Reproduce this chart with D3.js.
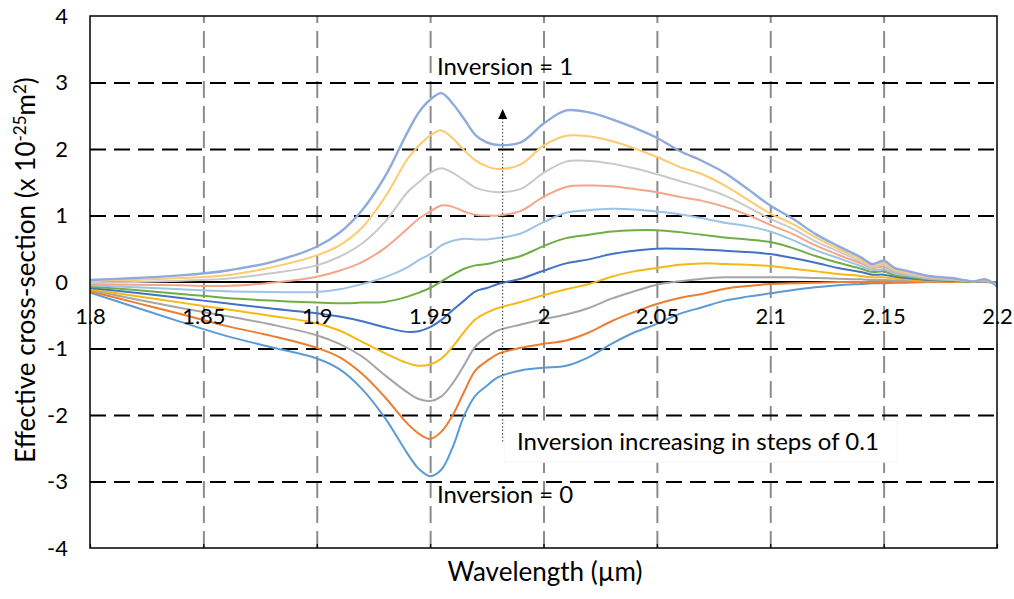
<!DOCTYPE html>
<html>
<head>
<meta charset="utf-8">
<script src="https://cdn.jsdelivr.net/npm/d3@7"></script>
<style>
  body { margin: 0; background: #fff; }
  text { font-family: Lato, "Open Sans", sans-serif; fill: #000; }
</style>
</head>
<body>
<svg id="chart" width="1014" height="599"></svg>
<script>
// wavelength in um
var wavelength = [1.80, 1.82, 1.84, 1.86, 1.88, 1.90, 1.91, 1.92, 1.93, 1.94, 1.945,
  1.95, 1.955, 1.96, 1.965, 1.97, 1.975, 1.98, 1.99, 2.00, 2.01, 2.02, 2.03, 2.04, 2.05,
  2.06, 2.07, 2.08, 2.09, 2.10, 2.11, 2.12, 2.13, 2.14, 2.145, 2.15, 2.155, 2.16, 2.17,
  2.18, 2.19, 2.195, 2.20];

// effective cross-section (x 1e-25 m^2), one array per inversion level
var inv00 = [-0.16, -0.38, -0.60, -0.81, -0.98, -1.15, -1.31, -1.61, -2.04, -2.58, -2.81,
  -2.92, -2.82, -2.48, -2.01, -1.71, -1.56, -1.43, -1.33, -1.29, -1.26, -1.13, -0.93, -0.76, -0.63,
  -0.48, -0.38, -0.28, -0.22, -0.17, -0.12, -0.08, -0.05, -0.03, -0.02, -0.02, -0.01, -0.01, 0.00,
  0.00, 0.00, 0.00, 0.00];
var inv01 = [-0.14, -0.31, -0.48, -0.66, -0.81, -0.99, -1.13, -1.38, -1.73, -2.13, -2.28,
  -2.36, -2.25, -2.00, -1.65, -1.33, -1.19, -1.08, -0.99, -0.93, -0.88, -0.76, -0.59, -0.45, -0.33,
  -0.24, -0.18, -0.10, -0.06, -0.03, -0.02, -0.01, 0.00, 0.00, 0.00, 0.00, 0.00, 0.00, 0.00,
  0.00, 0.00, 0.00, -0.01];
var inv02 = [-0.12, -0.26, -0.39, -0.51, -0.64, -0.80, -0.93, -1.12, -1.40, -1.66, -1.76,
  -1.79, -1.72, -1.52, -1.25, -0.97, -0.83, -0.73, -0.64, -0.56, -0.49, -0.39, -0.25, -0.14, -0.04,
  0.01, 0.05, 0.07, 0.07, 0.07, 0.07, 0.06, 0.05, 0.04, 0.03, 0.03, 0.02, 0.02, 0.01,
  0.01, 0.00, 0.00, -0.01];
var inv03 = [-0.11, -0.21, -0.31, -0.41, -0.51, -0.62, -0.73, -0.90, -1.07, -1.22, -1.26,
  -1.24, -1.15, -0.97, -0.75, -0.56, -0.46, -0.39, -0.30, -0.20, -0.11, -0.03, 0.08, 0.16, 0.21,
  0.26, 0.28, 0.27, 0.26, 0.24, 0.20, 0.16, 0.12, 0.09, 0.07, 0.07, 0.05, 0.04, 0.02,
  0.01, 0.00, 0.01, -0.02];
var inv04 = [-0.09, -0.16, -0.24, -0.32, -0.40, -0.47, -0.52, -0.59, -0.68, -0.75, -0.74,
  -0.68, -0.57, -0.42, -0.28, -0.14, -0.09, -0.03, 0.05, 0.17, 0.28, 0.34, 0.42, 0.47, 0.50,
  0.50, 0.49, 0.47, 0.45, 0.42, 0.36, 0.29, 0.21, 0.15, 0.11, 0.11, 0.08, 0.06, 0.03,
  0.02, 0.00, 0.01, -0.02];
var inv05 = [-0.07, -0.12, -0.18, -0.24, -0.28, -0.31, -0.32, -0.31, -0.30, -0.22, -0.16,
  -0.09, 0.01, 0.11, 0.20, 0.25, 0.27, 0.31, 0.39, 0.54, 0.66, 0.71, 0.76, 0.78, 0.78,
  0.75, 0.71, 0.67, 0.64, 0.60, 0.51, 0.39, 0.29, 0.20, 0.15, 0.16, 0.10, 0.08, 0.04,
  0.03, 0.00, 0.02, -0.03];
var inv06 = [-0.05, -0.08, -0.11, -0.14, -0.15, -0.15, -0.11, -0.03, 0.07, 0.22, 0.33,
  0.42, 0.55, 0.62, 0.65, 0.64, 0.64, 0.66, 0.73, 0.90, 1.04, 1.08, 1.10, 1.09, 1.06,
  1.02, 0.96, 0.89, 0.84, 0.76, 0.63, 0.48, 0.36, 0.24, 0.18, 0.19, 0.13, 0.10, 0.05,
  0.03, 0.01, 0.02, -0.04];
var inv07 = [-0.03, -0.04, -0.05, -0.06, -0.01, 0.08, 0.17, 0.30, 0.51, 0.80, 0.95,
  1.06, 1.15, 1.13, 1.06, 1.01, 1.00, 1.00, 1.07, 1.28, 1.43, 1.45, 1.44, 1.40, 1.35,
  1.28, 1.22, 1.13, 1.01, 0.86, 0.72, 0.55, 0.41, 0.28, 0.21, 0.23, 0.15, 0.12, 0.06,
  0.04, 0.01, 0.02, -0.05];
var inv08 = [-0.01, 0.00, 0.02, 0.05, 0.13, 0.25, 0.38, 0.58, 0.90, 1.35, 1.50,
  1.64, 1.71, 1.64, 1.53, 1.42, 1.37, 1.35, 1.40, 1.64, 1.81, 1.82, 1.78, 1.71, 1.62,
  1.52, 1.42, 1.30, 1.13, 0.95, 0.80, 0.61, 0.46, 0.31, 0.23, 0.26, 0.17, 0.13, 0.07,
  0.05, 0.01, 0.03, -0.05];
var inv09 = [0.01, 0.03, 0.06, 0.10, 0.22, 0.40, 0.55, 0.82, 1.27, 1.85, 2.05,
  2.20, 2.28, 2.16, 1.98, 1.83, 1.74, 1.70, 1.77, 2.05, 2.20, 2.19, 2.12, 2.01, 1.88,
  1.73, 1.62, 1.45, 1.24, 1.03, 0.87, 0.67, 0.50, 0.34, 0.25, 0.29, 0.19, 0.15, 0.08,
  0.05, 0.01, 0.03, -0.06];
var inv10 = [0.03, 0.06, 0.10, 0.17, 0.30, 0.53, 0.74, 1.08, 1.58, 2.25, 2.55,
  2.74, 2.84, 2.68, 2.45, 2.21, 2.10, 2.06, 2.10, 2.38, 2.58, 2.55, 2.45, 2.32, 2.17,
  1.97, 1.82, 1.64, 1.40, 1.15, 0.95, 0.72, 0.54, 0.37, 0.27, 0.32, 0.21, 0.17, 0.09,
  0.06, 0.01, 0.04, -0.07];

var seriesColors = ["#5b9bd5", "#ed7d31", "#a5a5a5", "#f5b914", "#4472c4", "#70ad47",
  "#9dc3e6", "#f4a688", "#c9c9c9", "#ffca6e", "#8faadc"];
var xTicks = [1.8, 1.85, 1.9, 1.95, 2, 2.05, 2.1, 2.15, 2.2];
var yTicks = [-4, -3, -2, -1, 0, 1, 2, 3, 4];

var series = [inv00, inv01, inv02, inv03, inv04, inv05, inv06, inv07, inv08, inv09, inv10];

var svg = d3.select("#chart");

var x = d3.scaleLinear().domain([1.8, 2.2]).range([90, 997]);
var y = d3.scaleLinear().domain([-4, 4]).range([548, 16]);
var plotW = x(2.2) - x(1.8), plotH = y(-4) - y(4);

// vertical grid (grey dashed)
svg.append("g")
    .attr("transform", "translate(0," + y(-4) + ")")
    .call(d3.axisBottom(x).tickValues(xTicks.slice(1, -1)).tickSize(-plotH).tickFormat(""))
    .call(function(g) { g.select(".domain").remove(); })
    .selectAll("line")
    .attr("stroke", "#8c8c8c").attr("stroke-width", 2).attr("stroke-dasharray", "17,8");

// horizontal grid (black dashed)
svg.append("g")
    .attr("transform", "translate(" + x(1.8) + ",0)")
    .call(d3.axisLeft(y).tickValues([-3, -2, -1, 1, 2, 3]).tickSize(-plotW).tickFormat(""))
    .call(function(g) { g.select(".domain").remove(); })
    .selectAll("line")
    .attr("stroke", "#000").attr("stroke-width", 2).attr("stroke-dasharray", "16,8");

// small ticks on the bottom edge
svg.append("g")
    .attr("transform", "translate(0," + y(-4) + ")")
    .call(d3.axisBottom(x).tickValues(xTicks).tickSize(-4).tickFormat(""))
    .call(function(g) { g.select(".domain").remove(); })
    .selectAll("line").attr("stroke", "#000").attr("stroke-width", 1.2);

// text box behind the step note
svg.append("rect")
    .attr("x", x(1.983)).attr("y", y(-2.09))
    .attr("width", x(2.156) - x(1.983)).attr("height", y(-2.71) - y(-2.09))
    .attr("fill", "#fff").attr("stroke", "#f6f6f6");

// zero line
svg.append("line")
    .attr("x1", x(1.8)).attr("x2", x(2.2)).attr("y1", y(0)).attr("y2", y(0))
    .attr("stroke", "#000").attr("stroke-width", 2);

// curves
var line = d3.line()
    .x(function(d, i) { return x(wavelength[i]); })
    .y(function(d) { return y(d); })
    .curve(d3.curveCatmullRom.alpha(0.5));

svg.append("g").selectAll("path").data(series).enter()
    .append("path")
    .attr("d", line)
    .attr("fill", "none")
    .attr("stroke", function(d, i) { return seriesColors[i]; })
    .attr("stroke-width", function(d, i) { return i == 10 ? 2.4 : 2; })
    .attr("stroke-linejoin", "round");

// plot frame
svg.append("rect")
    .attr("x", x(1.8)).attr("y", y(4)).attr("width", plotW).attr("height", plotH)
    .attr("fill", "none").attr("stroke", "#000").attr("stroke-width", 1.5);

// x tick labels sit under the zero line
svg.append("g")
    .attr("transform", "translate(0," + y(0) + ")")
    .call(d3.axisBottom(x).tickValues(xTicks).tickSize(0).tickPadding(26)
      .tickFormat(function(d) { return String(+d.toFixed(2)); }))
    .call(function(g) { g.select(".domain").remove(); })
    .selectAll("text").attr("font-size", 22).attr("font-family", "Lato");

// y tick labels (plain hyphen for minus, as in the original)
svg.append("g")
    .attr("transform", "translate(" + x(1.8) + ",0)")
    .call(d3.axisLeft(y).tickValues(yTicks).tickSize(0).tickPadding(22)
      .tickFormat(function(d) { return String(d); }))
    .call(function(g) { g.select(".domain").remove(); })
    .selectAll("text").attr("font-size", 22).attr("font-family", "Lato");

// arrow
var ax = x(1.982);
svg.append("line")
    .attr("x1", ax).attr("x2", ax).attr("y1", y(-2.4)).attr("y2", y(2.6) + 9)
    .attr("stroke", "#333").attr("stroke-width", 1).attr("stroke-dasharray", "1.5,2");
svg.append("path")
    .attr("d", "M" + ax + "," + y(2.6) + "L" + (ax - 4.5) + "," + (y(2.6) + 10) + "L" + (ax + 4.5) + "," + (y(2.6) + 10) + "Z")
    .attr("fill", "#000");

// annotations
svg.append("text").attr("x", x(1.953)).attr("y", y(3.12)).attr("font-size", 24).text("Inversion = 1");
svg.append("text").attr("x", x(1.953)).attr("y", y(-3.33)).attr("font-size", 24).text("Inversion = 0");
svg.append("text").attr("x", x(1.9883)).attr("y", y(-2.53)).attr("font-size", 24)
    .text("Inversion increasing in steps of 0.1");

// axis titles
svg.append("text")
    .attr("x", 545).attr("y", 581).attr("text-anchor", "middle").attr("font-size", 26)
    .text("Wavelength (\u00b5m)");

var yt = svg.append("text")
    .attr("transform", "translate(35,270) rotate(-90)")
    .attr("text-anchor", "middle").attr("font-size", 26);
yt.append("tspan").text("Effective cross-section (x 10");
yt.append("tspan").attr("dy", -9).attr("font-size", 17).text("-25");
yt.append("tspan").attr("dy", 9).text("m");
yt.append("tspan").attr("dy", -9).attr("font-size", 17).text("2");
yt.append("tspan").attr("dy", 9).text(")");
</script>
</body>
</html>
